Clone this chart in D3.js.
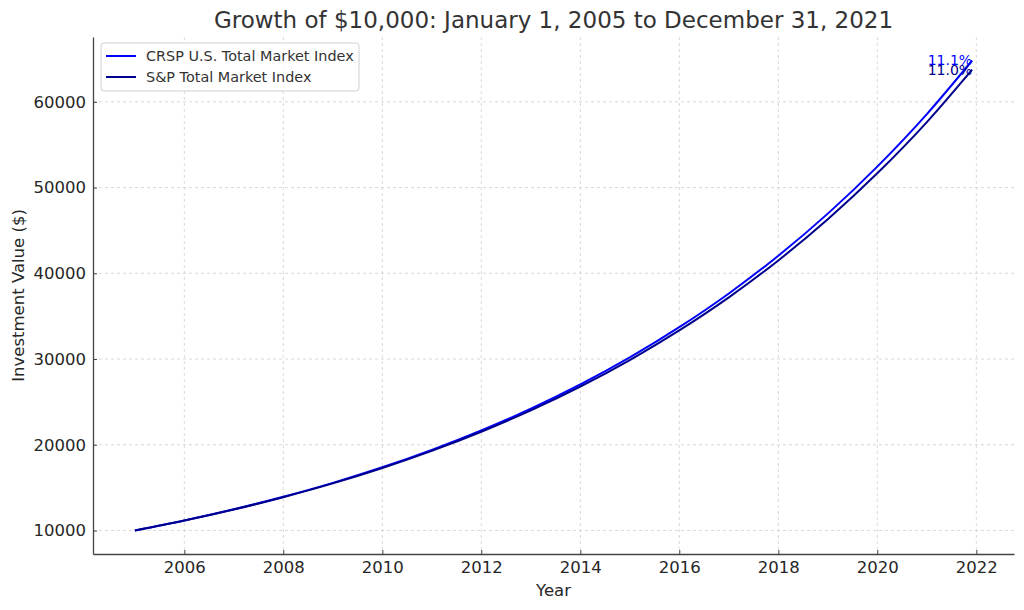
<!DOCTYPE html>
<html>
<head>
<meta charset="utf-8">
<script src="https://cdn.jsdelivr.net/npm/d3@7"></script>
<style>
  body { margin: 0; background: #fff; }
  text { font-family: "DejaVu Sans", sans-serif; }
</style>
</head>
<body>
<svg id="chart"></svg>
<script>
const chartWidth = 1024;
const chartHeight = 610;
const margin = { top: 37, right: 10, bottom: 56, left: 93 };

// dates of the readings (start of each year, last one is end of Dec 2021)
const dates = ["2005-01-01", "2006-01-01", "2007-01-01", "2008-01-01", "2009-01-01",
  "2010-01-01", "2011-01-01", "2012-01-01", "2013-01-01", "2014-01-01", "2015-01-01",
  "2016-01-01", "2017-01-01", "2018-01-01", "2019-01-01", "2020-01-01", "2021-01-01",
  "2021-12-01"];
const crspValues = [10000, 11168, 12473, 13930, 15557, 17374, 19404, 21670, 24202,
  27029, 30186, 33712, 37650, 42048, 46960, 52446, 58572, 64820];
const spValues = [10000, 11157, 12448, 13888, 15494, 17287, 19287, 21518, 24008,
  26785, 29884, 33341, 37198, 41501, 46302, 51659, 57636, 63750];
const seriesNames = ["CRSP U.S. Total Market Index", "S&P Total Market Index"];
const seriesColors = ["#0000ff", "#00008b"];
const endLabels = ["11.1%", "11.0%"];
const yTicks = [10000, 20000, 30000, 40000, 50000, 60000];

const parse = d3.timeParse("%Y-%m-%d");
const series = [crspValues, spValues].map((vals, k) => ({
  name: seriesNames[k],
  color: seriesColors[k],
  label: endLabels[k],
  points: vals.map((v, i) => ({ date: parse(dates[i]), value: v }))
}));

const svg = d3.select("#chart")
  .attr("width", chartWidth)
  .attr("height", chartHeight);

const innerW = chartWidth - margin.left - margin.right;
const innerH = chartHeight - margin.top - margin.bottom;

// matplotlib style 5% padding on each side
const xExt = d3.extent(series[0].points, d => d.date);
const xPad = (xExt[1] - xExt[0]) * 0.05;
const x = d3.scaleTime()
  .domain([new Date(+xExt[0] - xPad), new Date(+xExt[1] + xPad)])
  .range([0, innerW]);

const yMin = d3.min(series, s => d3.min(s.points, d => d.value));
const yMax = d3.max(series, s => d3.max(s.points, d => d.value));
const yPad = (yMax - yMin) * 0.05;
const y = d3.scaleLinear()
  .domain([yMin - yPad, yMax + yPad])
  .range([innerH, 0]);

const g = svg.append("g")
  .attr("transform", `translate(${margin.left}, ${margin.top})`);

const xTickVals = x.ticks(d3.timeYear.every(2));

// grid
g.append("g")
  .selectAll("line")
  .data(xTickVals)
  .enter()
  .append("line")
  .attr("x1", d => x(d)).attr("x2", d => x(d))
  .attr("y1", 0).attr("y2", innerH)
  .attr("stroke", "#cfcfcf")
  .attr("stroke-width", 0.8)
  .attr("stroke-dasharray", "3,3");

g.append("g")
  .selectAll("line")
  .data(yTicks)
  .enter()
  .append("line")
  .attr("x1", 0).attr("x2", innerW)
  .attr("y1", d => y(d)).attr("y2", d => y(d))
  .attr("stroke", "#cfcfcf")
  .attr("stroke-width", 0.8)
  .attr("stroke-dasharray", "3,3");

// axes, ticks pointing inward
const xAxis = g.append("g")
  .attr("transform", `translate(0, ${innerH})`)
  .call(d3.axisBottom(x).tickValues(xTickVals).tickFormat(d3.timeFormat("%Y"))
    .tickSizeInner(-4).tickSizeOuter(0).tickPadding(7));

const yAxis = g.append("g")
  .call(d3.axisLeft(y).tickValues(yTicks).tickFormat(d3.format("d"))
    .tickSizeInner(-4).tickSizeOuter(0).tickPadding(7));

[xAxis, yAxis].forEach(a => {
  a.select(".domain").attr("stroke", "#444").attr("stroke-width", 1.3);
  a.selectAll(".tick line").attr("stroke", "#444").attr("stroke-width", 1);
  a.selectAll(".tick text")
    .style("font-size", "16.5px")
    .style("font-family", "DejaVu Sans")
    .attr("fill", "#262626");
});

// lines
const line = d3.line()
  .x(d => x(d.date))
  .y(d => y(d.value))
  .curve(d3.curveMonotoneX);

series.forEach(s => {
  g.append("path")
    .datum(s.points)
    .attr("fill", "none")
    .attr("stroke", s.color)
    .attr("stroke-width", 2)
    .attr("d", line);

  const last = s.points[s.points.length - 1];
  g.append("text")
    .attr("x", x(last.date))
    .attr("y", y(last.value))
    .attr("dy", "0.35em")
    .attr("text-anchor", "end")
    .style("font-size", "14px")
    .attr("fill", s.color)
    .text(s.label);
});

// legend
const legend = g.append("g").attr("transform", "translate(8, 6)");
legend.append("rect")
  .attr("width", 258).attr("height", 48)
  .attr("rx", 3)
  .attr("fill", "#fff")
  .attr("fill-opacity", 0.8)
  .attr("stroke", "#d0d0d0");

series.forEach((s, i) => {
  const ly = 13 + i * 21;
  legend.append("line")
    .attr("x1", 5).attr("x2", 35)
    .attr("y1", ly).attr("y2", ly)
    .attr("stroke", s.color)
    .attr("stroke-width", 2);
  legend.append("text")
    .attr("x", 45).attr("y", ly)
    .attr("dy", "0.35em")
    .style("font-size", "14.4px")
    .attr("fill", "#333")
    .text(s.name);
});

// title and axis labels
svg.append("text")
  .attr("x", margin.left + innerW / 2)
  .attr("y", 28)
  .attr("text-anchor", "middle")
  .style("font-size", "23px")
  .attr("fill", "#333")
  .text("Growth of $10,000: January 1, 2005 to December 31, 2021");

svg.append("text")
  .attr("x", margin.left + innerW / 2)
  .attr("y", 596)
  .attr("text-anchor", "middle")
  .style("font-size", "16.5px")
  .attr("fill", "#262626")
  .text("Year");

svg.append("text")
  .attr("transform", `translate(24, ${margin.top + innerH / 2}) rotate(-90)`)
  .attr("text-anchor", "middle")
  .style("font-size", "16.5px")
  .attr("fill", "#262626")
  .text("Investment Value ($)");
</script>
</body>
</html>
